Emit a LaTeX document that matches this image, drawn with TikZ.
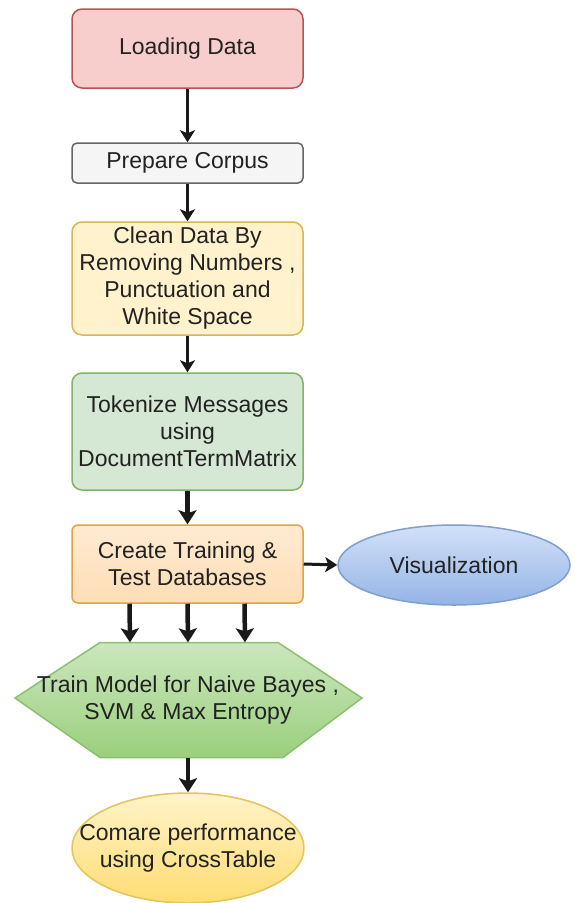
\documentclass[tikz,border=0pt]{standalone}
\usepackage{fontspec}
\setmainfont{Liberation Sans}
\usetikzlibrary{arrows.meta,shapes.geometric,backgrounds,calc}
\definecolor{txt}{HTML}{222222}
\definecolor{redF}{HTML}{F8CECC}\definecolor{redD}{HTML}{B85450}
\definecolor{grayF}{HTML}{F5F5F5}\definecolor{grayD}{HTML}{666666}
\definecolor{yelF}{HTML}{FFF2CC}\definecolor{yelD}{HTML}{D6B656}
\definecolor{grnF}{HTML}{D5E8D4}\definecolor{grnD}{HTML}{82B366}
\definecolor{orgT}{HTML}{FFEBD2}\definecolor{orgB}{HTML}{FDDDB5}\definecolor{orgD}{HTML}{E0A440}
\definecolor{bluT}{HTML}{D2E1F8}\definecolor{bluB}{HTML}{94B4E6}\definecolor{bluD}{HTML}{7E9FD0}
\definecolor{hexT}{HTML}{CBE7BE}\definecolor{hexB}{HTML}{9ACF7C}\definecolor{hexD}{HTML}{8CBF70}
\definecolor{cmpT}{HTML}{FFF3C8}\definecolor{cmpB}{HTML}{FFDD73}\definecolor{cmpD}{HTML}{E3C35A}
\begin{document}
\begin{tikzpicture}[x=1pt,y=-1pt,
  lbl/.style={align=center,font=\fontsize{23}{27}\selectfont,text=txt},
  box/.style={lbl,rectangle,rounded corners=10pt,line width=1.5pt,minimum width=231pt,inner sep=2pt},
  oval/.style={lbl,ellipse,line width=1.5pt,inner sep=0pt},
  arr/.style={line width=3pt,draw=black!90,-{Stealth[length=12pt,width=15pt,inset=3pt]}},
  arrB/.style={line width=4.5pt,draw=black!90,-{Stealth[length=14pt,width=18pt,inset=3pt]}}
]
\useasboundingbox (0,0) rectangle (574,903);

\node[box,fill=redF,draw=redD,minimum height=79pt] (load) at (187.5,48.5) {Loading Data};
\node[box,fill=grayF,draw=grayD,minimum height=40pt,rounded corners=5pt] (prep) at (187.5,163) {Prepare Corpus};
\node[box,fill=yelF,draw=yelD,minimum height=113pt] (clean) at (187.5,278.5) {Clean Data By\\Removing Numbers ,\\Punctuation and\\White Space};
\node[box,fill=grnF,draw=grnD,minimum height=117pt] (token) at (187.5,431.5) {Tokenize Messages\\using\\DocumentTermMatrix};
\node[box,top color=orgT,bottom color=orgB,draw=orgD,minimum height=78pt,rounded corners=6pt] (create) at (187.5,564) {Create Training \&\\Test Databases};
\node[oval,top color=bluT,bottom color=bluB,draw=bluD,minimum width=232pt,minimum height=80pt] (vis) at (454,565) {Visualization};
\node[lbl,rectangle,minimum width=180pt,minimum height=115pt,inner sep=0pt] (train) at (188,700) {Train Model for Naive Bayes ,\\SVM \& Max Entropy};
\begin{scope}[on background layer]
\path[top color=hexT,bottom color=hexB,draw=hexD,line width=1.5pt]
  ($(train.center)+(-88,-57.5)$) -- ($(train.center)+(90,-57.5)$) -- ($(train.center)+(174,-2)$)
  -- ($(train.center)+(95,57.5)$) -- ($(train.center)+(-88,57.5)$) -- ($(train.center)+(-173,-2)$) -- cycle;
\end{scope}
\node[oval,top color=cmpT,bottom color=cmpB,draw=cmpD,inner xsep=-27pt,minimum width=232pt,minimum height=110pt] (cmp) at (188,848) {Comare performance\\using CrossTable};

\draw[arr] (load) -- (prep);
\draw[arr] (prep) -- (clean);
\draw[arr] (clean) -- (token);
\draw[arrB] (token) -- (create);
\draw[arr] (create.east) -- (vis.west);
\draw[arrB] ([xshift=-58pt]create.south) -- ([xshift=-58pt]train.north);
\draw[arrB] (create.south) -- (train.north);
\draw[arrB] ([xshift=57pt]create.south) -- ([xshift=57pt]train.north);
\draw[arrB] (train) -- (cmp);
\end{tikzpicture}
\end{document}
